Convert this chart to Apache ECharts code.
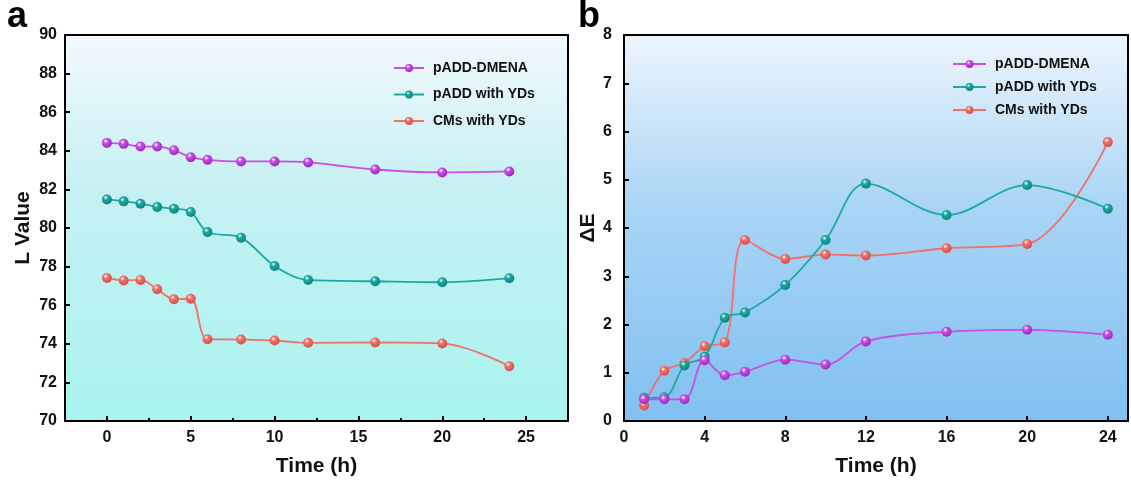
<!DOCTYPE html>
<html>
<head>
<meta charset="utf-8">
<script src="https://cdn.jsdelivr.net/npm/echarts@6/dist/echarts.min.js"></script>
<style>
  html, body { margin: 0; padding: 0; background: #fff; }
  #chart { width: 1131px; height: 484px; }
</style>
</head>
<body>
<div id="chart"></div>
<script>
// panel a: L value vs time
const timeA = [0, 1, 2, 3, 4, 5, 6, 8, 10, 12, 16, 20, 24]
const lDmena = [84.41, 84.36, 84.22, 84.22, 84.03, 83.67, 83.53, 83.45, 83.45, 83.40, 83.03, 82.88, 82.93]
const lPaddYds = [81.48, 81.38, 81.26, 81.09, 81.00, 80.83, 79.79, 79.50, 78.03, 77.31, 77.24, 77.19, 77.40]
const lCmsYds = [77.41, 77.28, 77.31, 76.83, 76.31, 76.33, 74.24, 74.22, 74.17, 74.05, 74.07, 74.02, 72.84]

// panel b: delta E vs time
const timeB = [1, 2, 3, 4, 5, 6, 8, 10, 12, 16, 20, 24]
const eDmena = [0.45, 0.45, 0.45, 1.26, 0.95, 1.02, 1.27, 1.17, 1.65, 1.85, 1.89, 1.79]
const ePaddYds = [0.48, 0.49, 1.15, 1.33, 2.14, 2.25, 2.82, 3.75, 4.92, 4.27, 4.89, 4.40]
const eCmsYds = [0.32, 1.04, 1.20, 1.55, 1.63, 3.75, 3.36, 3.45, 3.43, 3.58, 3.67, 5.78]

const ticksXA = [0, 5, 10, 15, 20, 25]
const minorXA = [2.5, 7.5, 12.5, 17.5, 22.5]
const ticksXB = [0, 4, 8, 12, 16, 20, 24]

const names = ['pADD-DMENA', 'pADD with YDs', 'CMs with YDs']
const colors = ['#c84ee6', '#1aa9a2', '#ef716b']
const dark = ['#9a22b8', '#0c7d78', '#d24a44']

const chart = echarts.init(document.getElementById('chart'))

function pairs(xs, ys) {
  return xs.map((x, i) => [x, ys[i]])
}

function ball(i) {
  return new echarts.graphic.RadialGradient(0.38, 0.32, 0.75, [
    { offset: 0, color: '#ffffff' },
    { offset: 0.3, color: colors[i] },
    { offset: 1, color: dark[i] }
  ])
}

function lineSeries(i, xIdx, yIdx, xs, ys) {
  return {
    name: names[i],
    type: 'line',
    xAxisIndex: xIdx,
    yAxisIndex: yIdx,
    data: pairs(xs, ys),
    smooth: 0.35,
    symbol: 'circle',
    symbolSize: 10,
    showAllSymbol: true,
    lineStyle: { color: colors[i], width: 1.8 },
    itemStyle: { color: ball(i), borderWidth: 0 },
    z: 3 - i + 2
  }
}

const labelFont = { color: '#111', fontSize: 16, fontWeight: 'bold', fontFamily: 'Liberation Sans, Arial' }
const nameFont = { color: '#111', fontSize: 21, fontWeight: 'bold', fontFamily: 'Liberation Sans, Arial' }
const legendFont = { color: '#111', fontSize: 14, fontWeight: 'bold', fontFamily: 'Liberation Sans, Arial', padding: [0, 0, 0, 4] }

const bgA = new echarts.graphic.LinearGradient(0, 0, 0, 1, [
  { offset: 0, color: '#f2f9fd' },
  { offset: 0.4, color: '#c6f0f3' },
  { offset: 1, color: '#a8f4ee' }
])
const bgB = new echarts.graphic.LinearGradient(0, 0, 0, 1, [
  { offset: 0, color: '#edf5fc' },
  { offset: 0.45, color: '#a9d4f5' },
  { offset: 1, color: '#80c0f1' }
])

const option = {
  backgroundColor: '#fff',
  animation: false,
  title: [
    { text: 'a', left: 2, top: -6, textStyle: { fontSize: 36, fontWeight: 'bold', color: '#000', fontFamily: 'Liberation Sans, Arial' } },
    { text: 'b', left: 573, top: -6, textStyle: { fontSize: 36, fontWeight: 'bold', color: '#000', fontFamily: 'Liberation Sans, Arial' } }
  ],
  legend: [
    {
      data: names,
      orient: 'vertical',
      left: 393,
      top: 61,
      padding: 0,
      itemWidth: 30,
      itemHeight: 10,
      itemGap: 12.5,
      selectedMode: false,
      textStyle: legendFont
    },
    {
      data: names,
      orient: 'vertical',
      left: 952,
      top: 57,
      padding: 0,
      itemWidth: 33,
      itemHeight: 10,
      itemGap: 9,
      selectedMode: false,
      textStyle: legendFont
    }
  ],
  grid: [
    { left: 65, top: 35, width: 503, height: 386, show: true, backgroundColor: bgA, borderColor: '#000', borderWidth: 2 },
    { left: 624, top: 35, width: 504, height: 386, show: true, backgroundColor: bgB, borderColor: '#000', borderWidth: 2 }
  ],
  xAxis: [
    {
      type: 'value', gridIndex: 0, min: -2.5, max: 27.5, position: 'bottom',
      name: 'Time (h)', nameLocation: 'middle', nameGap: 35, nameTextStyle: nameFont,
      axisLine: { onZero: false, lineStyle: { color: '#000', width: 2 } },
      axisTick: { inside: true, length: 5, lineStyle: { color: '#000', width: 2 }, customValues: ticksXA },
      axisLabel: { ...labelFont, margin: 9, customValues: ticksXA },
      splitLine: { show: false }
    },
    {
      type: 'value', gridIndex: 1, min: 0, max: 25, position: 'bottom',
      name: 'Time (h)', nameLocation: 'middle', nameGap: 35, nameTextStyle: nameFont,
      axisLine: { onZero: false, lineStyle: { color: '#000', width: 2 } },
      axisTick: { inside: true, length: 5, lineStyle: { color: '#000', width: 2 }, customValues: ticksXB },
      axisLabel: { ...labelFont, margin: 9, customValues: ticksXB },
      splitLine: { show: false }
    },
    {
      type: 'value', gridIndex: 0, min: -2.5, max: 27.5, position: 'bottom',
      axisLine: { show: false, onZero: false },
      axisTick: { inside: true, length: 3, lineStyle: { color: '#000', width: 2 }, customValues: minorXA },
      axisLabel: { show: false },
      splitLine: { show: false }
    }
  ],
  yAxis: [
    {
      type: 'value', gridIndex: 0, min: 70, max: 90, interval: 2, position: 'left',
      name: 'L Value', nameLocation: 'middle', nameGap: 31, nameTextStyle: nameFont,
      axisLine: { show: true, onZero: false, lineStyle: { color: '#000', width: 2 } },
      axisTick: { inside: true, length: 5, lineStyle: { color: '#000', width: 2 } },
      axisLabel: { ...labelFont, margin: 8 },
      splitLine: { show: false }
    },
    {
      type: 'value', gridIndex: 1, min: 0, max: 8, interval: 1, position: 'left',
      name: 'ΔE', nameLocation: 'middle', nameGap: 24, nameTextStyle: nameFont,
      axisLine: { show: true, onZero: false, lineStyle: { color: '#000', width: 2 } },
      axisTick: { inside: true, length: 5, lineStyle: { color: '#000', width: 2 } },
      axisLabel: { ...labelFont, margin: 12 },
      splitLine: { show: false }
    }
  ],
  series: [
    lineSeries(0, 0, 0, timeA, lDmena),
    lineSeries(1, 0, 0, timeA, lPaddYds),
    lineSeries(2, 0, 0, timeA, lCmsYds),
    lineSeries(0, 1, 1, timeB, eDmena),
    lineSeries(1, 1, 1, timeB, ePaddYds),
    lineSeries(2, 1, 1, timeB, eCmsYds)
  ]
}

chart.setOption(option)
</script>
</body>
</html>
